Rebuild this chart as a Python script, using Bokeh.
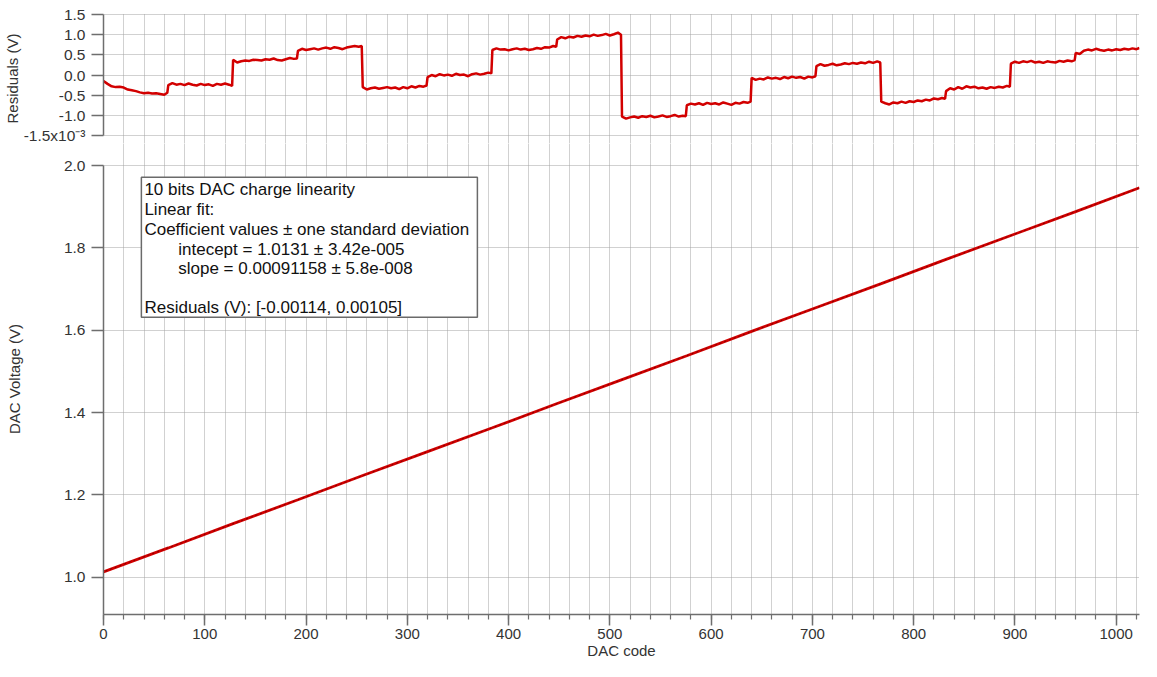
from bokeh.plotting import figure
from bokeh.layouts import column
from bokeh.models import (Range1d, SingleIntervalTicker, FixedTicker, PrintfTickFormatter,
                          Grid, Label, BoxAnnotation, Slope)
from bokeh.embed import file_html
from bokeh.resources import INLINE

FONT = "Liberation Sans"

# ---------------- data ----------------
# Residuals (units of 1e-3 V), one list per 64-code segment, sampled at the offsets below
segment_length = 64
segment_offsets = [0, 4, 8, 12, 16, 20, 24, 28, 32, 36, 40, 44, 48, 52, 56, 60, 63]
residual_segments = [
    [-0.15, -0.22, -0.28, -0.30, -0.29, -0.31, -0.36, -0.38, -0.40, -0.43, -0.45, -0.44, -0.46, -0.45, -0.47, -0.49, -0.44],
    [-0.25, -0.20, -0.24, -0.22, -0.25, -0.21, -0.24, -0.26, -0.22, -0.25, -0.23, -0.27, -0.22, -0.24, -0.21, -0.24, -0.27],
    [0.38, 0.31, 0.34, 0.36, 0.35, 0.38, 0.37, 0.36, 0.39, 0.38, 0.41, 0.37, 0.36, 0.39, 0.42, 0.40, 0.41],
    [0.60, 0.65, 0.62, 0.64, 0.66, 0.63, 0.66, 0.68, 0.65, 0.69, 0.67, 0.64, 0.68, 0.70, 0.72, 0.70, 0.72],
    [-0.30, -0.36, -0.33, -0.31, -0.34, -0.32, -0.30, -0.33, -0.31, -0.35, -0.30, -0.33, -0.28, -0.31, -0.27, -0.29, -0.26],
    [-0.05, 0.00, -0.03, 0.02, -0.01, 0.01, -0.02, 0.03, 0.00, 0.01, -0.03, 0.02, 0.04, 0.01, 0.03, 0.06, 0.04],
    [0.62, 0.66, 0.63, 0.64, 0.61, 0.64, 0.66, 0.63, 0.65, 0.62, 0.64, 0.67, 0.65, 0.69, 0.68, 0.72, 0.70],
    [0.88, 0.94, 0.91, 0.95, 0.93, 0.97, 0.95, 0.98, 0.96, 1.00, 0.97, 0.99, 1.02, 0.98, 1.01, 1.05, 1.00],
    [-1.03, -1.08, -1.05, -1.03, -1.06, -1.02, -1.04, -1.01, -1.05, -1.03, -1.00, -1.04, -1.02, -0.99, -1.03, -1.01, -1.02],
    [-0.75, -0.71, -0.73, -0.70, -0.74, -0.69, -0.72, -0.70, -0.73, -0.68, -0.71, -0.74, -0.69, -0.71, -0.67, -0.69, -0.66],
    [-0.07, -0.12, -0.09, -0.11, -0.06, -0.09, -0.07, -0.10, -0.05, -0.08, -0.04, -0.07, -0.05, -0.09, -0.04, -0.06, -0.03],
    [0.22, 0.27, 0.23, 0.25, 0.28, 0.24, 0.26, 0.29, 0.27, 0.30, 0.28, 0.31, 0.29, 0.33, 0.30, 0.34, 0.31],
    [-0.66, -0.70, -0.73, -0.68, -0.70, -0.66, -0.69, -0.65, -0.67, -0.63, -0.65, -0.61, -0.63, -0.58, -0.60, -0.57, -0.59],
    [-0.40, -0.33, -0.36, -0.30, -0.34, -0.28, -0.31, -0.29, -0.33, -0.31, -0.34, -0.30, -0.32, -0.29, -0.31, -0.27, -0.29],
    [0.28, 0.33, 0.30, 0.34, 0.32, 0.35, 0.31, 0.33, 0.30, 0.34, 0.32, 0.31, 0.35, 0.33, 0.36, 0.34, 0.37],
    [0.55, 0.52, 0.60, 0.63, 0.61, 0.65, 0.62, 0.60, 0.63, 0.61, 0.64, 0.62, 0.65, 0.63, 0.66, 0.64, 0.67],
]

# DAC voltage (V) read at these codes
volt_code = [0, 64, 128, 192, 256, 320, 384, 448, 512, 576, 640, 704, 768, 832, 896, 960, 1023]
volt_val = [1.013, 1.071, 1.130, 1.188, 1.247, 1.305, 1.363, 1.422, 1.480,
            1.538, 1.597, 1.655, 1.713, 1.772, 1.830, 1.888, 1.946]

fit_intercept = 1.0131
fit_slope = 0.00091158

res_ticks = [-1.5, -1.0, -0.5, 0.0, 0.5, 1.0, 1.5]
res_tick_labels = {-1.5: "-1.5x10\u207b\u00b3"}
volt_ticks = [1.0, 1.2, 1.4, 1.6, 1.8, 2.0]

info_lines = [
    "10 bits DAC charge linearity",
    "Linear fit:",
    "Coefficient values \u00b1 one standard deviation",
    "intecept = 1.0131 \u00b1 3.42e-005",
    "slope = 0.00091158 \u00b1 5.8e-008",
    "Residuals (V): [-0.00114, 0.00105]",
]

res_code = []
res_val = []
for k, seg in enumerate(residual_segments):
    for off, v in zip(segment_offsets, seg):
        res_code.append(k * segment_length + off)
        res_val.append(v)

# ---------------- styling helpers ----------------
W = 1141
AX = "#6e6e6e"
TXT = "#333333"
GRID = "#a2a2a2"
RED = "#d20000"


def style_axis(ax, tick_size="15.5px"):
    ax.axis_line_color = AX
    ax.axis_line_width = 1.5
    ax.major_tick_line_color = AX
    ax.major_tick_line_width = 1.5
    ax.minor_tick_line_color = AX
    ax.minor_tick_line_width = 1.2
    ax.major_tick_out = 12
    ax.major_tick_in = 0
    ax.minor_tick_out = 5
    ax.minor_tick_in = 0
    ax.major_label_text_font = FONT
    ax.major_label_text_font_size = tick_size
    ax.major_label_text_color = TXT
    ax.axis_label_text_font = FONT
    ax.axis_label_text_font_size = "15px"
    ax.axis_label_text_font_style = "normal"
    ax.axis_label_text_color = TXT


def style_grid(g):
    g.grid_line_color = GRID
    g.grid_line_dash = "1 1"
    g.grid_line_width = 1


x_range = Range1d(0, 1023)

# ---------------- residual panel ----------------
top = figure(width=W, height=143, x_range=x_range, y_range=Range1d(-1.698, 1.525),
             output_backend="svg", toolbar_location=None, x_axis_location=None,
             min_border_left=100, min_border_right=2, min_border_top=13, min_border_bottom=0)
top.outline_line_color = None
yax = top.yaxis[0]
style_axis(yax)
yax.ticker = FixedTicker(ticks=res_ticks, minor_ticks=[])
yax.formatter = PrintfTickFormatter(format="%.1f")
yax.major_label_overrides = res_tick_labels
yax.bounds = (-1.5, 1.5)
yax.major_label_standoff = 6
yax.axis_label = "Residuals (V)"
yax.axis_label_standoff = 0
top.ygrid.ticker = FixedTicker(ticks=res_ticks)
style_grid(top.ygrid[0])
top.xgrid.visible = False
vg = Grid(dimension=0, ticker=SingleIntervalTicker(interval=20))
style_grid(vg)
top.add_layout(vg)
top.line(res_code, res_val, line_color=RED, line_width=2.5)

# ---------------- main panel ----------------
main = figure(width=W, height=518, x_range=x_range, y_range=Range1d(0.9093, 2.0535),
              output_backend="svg", toolbar_location=None,
              min_border_left=100, min_border_right=2, min_border_top=0, min_border_bottom=47)
main.outline_line_color = None
xax = main.xaxis[0]
style_axis(xax, "15px")
xax.major_tick_out = 11
xax.ticker = SingleIntervalTicker(interval=100, num_minor_ticks=5)
xax.major_label_standoff = 3
xax.axis_label = "DAC code"
xax.axis_label_standoff = 0
yax2 = main.yaxis[0]
style_axis(yax2)
yax2.ticker = FixedTicker(ticks=volt_ticks, minor_ticks=[])
yax2.formatter = PrintfTickFormatter(format="%.1f")
yax2.bounds = (0.9093, 2.0)
yax2.major_label_standoff = 6
yax2.axis_label = "DAC Voltage (V)"
yax2.axis_label_standoff = 38
main.xgrid.ticker = SingleIntervalTicker(interval=20)
main.ygrid.ticker = FixedTicker(ticks=volt_ticks)
style_grid(main.xgrid[0])
style_grid(main.ygrid[0])

main.line(volt_code, volt_val, line_color=RED, line_width=2.8)
main.add_layout(Slope(gradient=fit_slope, y_intercept=fit_intercept,
                      line_color="#3a0000", line_width=1, line_alpha=0.55, line_dash="2 3"))

main.add_layout(BoxAnnotation(left=37.4, right=369.2, bottom=1.6313, top=1.9716,
                              fill_color="white", fill_alpha=1.0,
                              line_color="#6a6a6a", line_width=1.5, line_alpha=1.0))
line_y = [1.9424, 1.8938, 1.8452, 1.7965, 1.7503, 1.6561]
line_x = [40.4, 40.4, 40.4, 73.8, 73.8, 40.4]
for tx, ty, t in zip(line_x, line_y, info_lines):
    main.add_layout(Label(x=tx, y=ty, text=t, text_baseline="middle", text_align="left",
                          text_font=FONT, text_font_size="17px", text_color="#111111"))

layout = column(top, main, spacing=0)
open("out.html", "w").write(file_html(layout, INLINE))
